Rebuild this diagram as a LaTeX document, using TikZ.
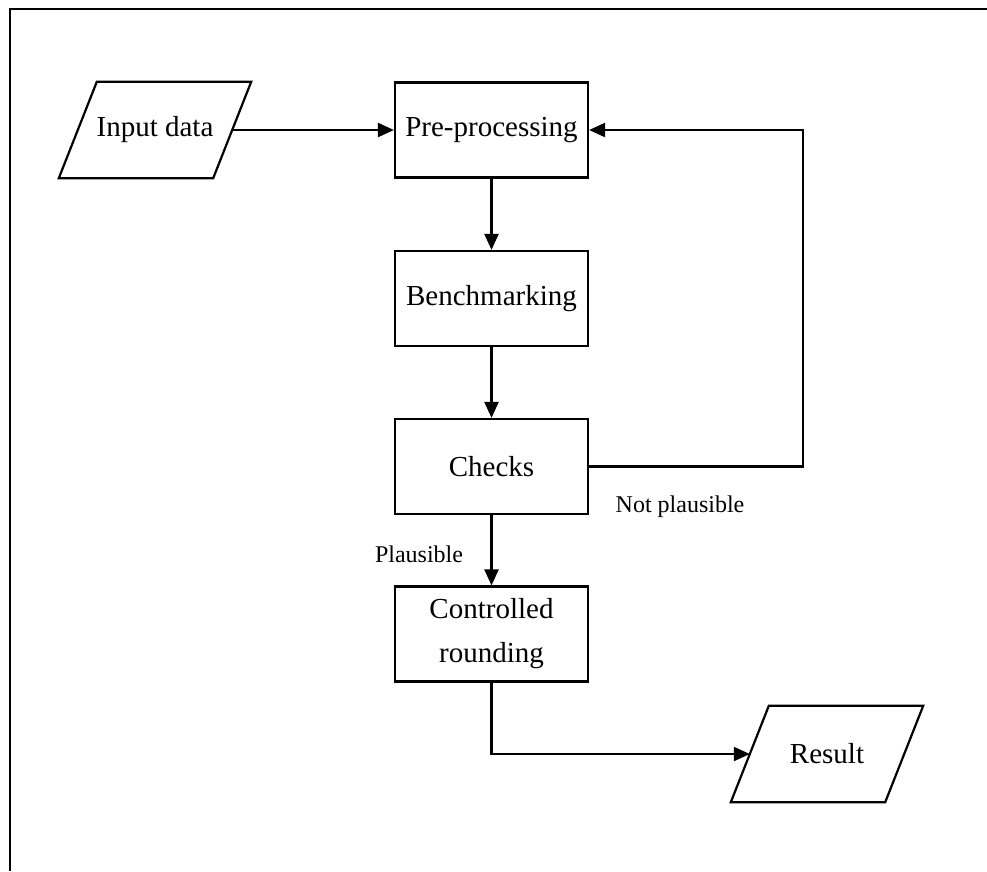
\documentclass[tikz,border=0pt]{standalone}
\usepackage{fontspec}
\setmainfont{Liberation Serif}
\usetikzlibrary{arrows.meta}
\begin{document}
\begin{tikzpicture}[x=1pt,y=-1pt,
  box/.style={draw,line width=2.2pt,minimum width=193pt,minimum height=95pt,inner sep=0pt,align=center,font=\fontsize{29}{44}\selectfont},
  io/.style={minimum width=154pt,minimum height=96pt,inner sep=0pt,font=\fontsize{29}{35}\selectfont},
  para/.style={line width=2.2pt},
  conn/.style={line width=2.2pt,-{Triangle[length=16pt,width=14pt]}},
  lbl/.style={font=\fontsize{24}{29}\selectfont,inner sep=0pt},
  frame/.style={line width=2.4pt}]
\useasboundingbox (0,0) rectangle (987,871);
\node[io] (inp) at (155,130) {Input data};
\draw[para] ([xshift=-19pt]inp.south west) -- ([xshift=-19pt]inp.south east) -- ([xshift=19pt]inp.north east) -- ([xshift=19pt]inp.north west) -- cycle;
\node[box] (pre) at (491.5,130) {Pre-processing};
\node[box] (bench) at (491.5,298.5) {Benchmarking};
\node[box] (chk) at (491.5,466.5) {Checks};
\node[box] (ctrl) at (491.5,634) {Controlled\\rounding};
\node[io] (res) at (827,754) {Result};
\draw[para] ([xshift=-19pt]res.south west) -- ([xshift=-19pt]res.south east) -- ([xshift=19pt]res.north east) -- ([xshift=19pt]res.north west) -- cycle;
\coordinate (loopc) at (803,466.5);
\node[lbl] (np) at (680,507) {Not plausible};
\node[lbl] (pl) at (419,554) {Plausible};
\draw[conn] (inp) -- (pre);
\draw[conn] (pre) -- (bench);
\draw[conn] (bench) -- (chk);
\draw[conn] (chk) -- (ctrl);
\draw[conn] (chk) -- (loopc) |- (pre);
\draw[conn] (ctrl) |- (res);
\draw[frame] (10,871) -- (10,9) -- (987,9);
\end{tikzpicture}
\end{document}
